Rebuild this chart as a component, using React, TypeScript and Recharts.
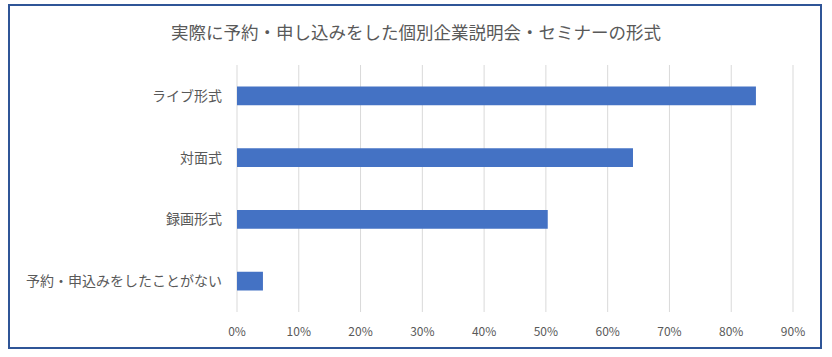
import { BarChart, Bar, XAxis, YAxis, CartesianGrid } from "recharts";

const categories = [
  "ライブ形式",
  "対面式",
  "録画形式",
  "予約・申込みをしたことがない",
];
const shares = [0.84, 0.641, 0.503, 0.042];
const xTicks = [0, 0.1, 0.2, 0.3, 0.4, 0.5, 0.6, 0.7, 0.8, 0.9];

const data = categories.map((name, i) => ({ name, value: shares[i] }));

const font = '"Noto Sans CJK JP", "Noto Sans", sans-serif';

export default function App() {
  return (
    <div
      style={{
        position: "absolute",
        left: 0,
        top: 0,
        width: 832,
        height: 357,
        background: "#fff",
        fontFamily: font,
      }}
    >
      <div
        style={{
          position: "absolute",
          left: 8,
          top: 4,
          width: 810,
          height: 341,
          border: "2px solid #2F5597",
        }}
      />
      <div
        style={{
          position: "absolute",
          left: 0,
          top: 19,
          width: 832,
          textAlign: "center",
          fontSize: 17.5,
          color: "#595959",
        }}
      >
        実際に予約・申し込みをした個別企業説明会・セミナーの形式
      </div>
      <div style={{ position: "absolute", left: 0, top: 0 }}>
        <BarChart
          width={832}
          height={357}
          data={data}
          layout="vertical"
          margin={{ top: 65, right: 39, bottom: 15, left: 8 }}
          barCategoryGap="65%"
        >
          <CartesianGrid horizontal={false} stroke="#D9D9D9" />
          <XAxis
            type="number"
            domain={[0, 0.9]}
            ticks={xTicks}
            tickFormatter={(v: number) => `${Math.round(v * 100)}%`}
            tick={{ fontSize: 12, fill: "#595959", fontFamily: font }}
            tickLine={false}
            axisLine={false}
            tickMargin={9}
            height={30}
          />
          <YAxis
            type="category"
            dataKey="name"
            width={229}
            tick={{ fontSize: 14, fill: "#595959", fontFamily: font }}
            tickLine={false}
            axisLine={false}
            tickMargin={9}
          />
          <Bar dataKey="value" fill="#4472C4" isAnimationActive={false} />
        </BarChart>
      </div>
    </div>
  );
}
